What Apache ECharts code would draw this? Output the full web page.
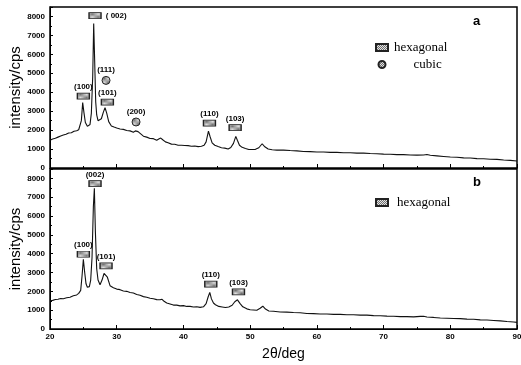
<!DOCTYPE html>
<html>
<head>
<meta charset="utf-8">
<script src="https://cdn.jsdelivr.net/npm/echarts@6/dist/echarts.min.js"></script>
<style>
  html, body { margin: 0; padding: 0; background: #fff; }
  #chart { width: 521px; height: 365px; }
</style>
</head>
<body>
<div id="chart"></div>
<script>
// XRD pattern, sample a: 2θ (deg) and intensity (cps)
const twoThetaA = [20,20.4,20.8,21.2,21.6,22,22.4,22.8,23.2,23.6,24,24.3,24.5,24.7,24.9,25.1,25.3,25.6,25.8,26,26.2,26.4,26.55,26.7,26.85,27,27.2,27.4,27.7,28,28.25,28.5,28.8,29.2,29.6,30,30.5,31,31.5,32,32.5,32.8,33,33.2,33.6,34,34.5,35,35.5,36,36.3,36.6,36.9,37.3,37.7,38.2,38.7,39.2,39.7,40.2,40.7,41.2,41.7,42.2,42.7,43.1,43.4,43.75,44,44.3,44.7,45.2,45.7,46.2,46.7,47.1,47.5,47.85,48.1,48.4,48.8,49.3,49.8,50.3,50.8,51.3,51.8,52.2,52.7,53.3,54,55,56,57,58,59,60,61,62,63,64,65,66,67,68,69,70,71,72,73,74,75,76,76.5,77,78,79,80,81,82,83,84,85,86,87,88,89,90];
const intensityA = [1460,1530,1570,1630,1690,1740,1780,1850,1860,1940,1970,2020,2070,2500,3450,2900,2400,2200,2180,2300,2900,4800,7630,5600,3500,2800,2500,2430,2600,2950,3180,2900,2450,2220,2160,2110,2060,2040,1980,1960,1890,1960,2050,1920,1800,1680,1630,1560,1550,1470,1530,1580,1490,1380,1330,1260,1250,1200,1200,1190,1180,1150,1160,1130,1150,1200,1380,1950,1650,1330,1200,1130,1070,1050,1000,1080,1300,1670,1450,1200,1090,1030,975,980,985,1070,1280,1120,1000,965,945,945,920,905,875,865,845,845,825,825,805,805,785,785,765,755,735,725,705,705,685,680,690,710,670,640,610,580,565,535,525,495,485,465,455,420,405,370];

// XRD pattern, sample b
const twoThetaB = [20,20.4,20.8,21.2,21.6,22,22.5,23,23.5,24,24.3,24.6,24.8,25,25.2,25.4,25.6,25.9,26.1,26.3,26.5,26.65,26.8,27,27.2,27.5,27.8,28.1,28.35,28.6,29,29.5,30,30.5,31,31.5,32,32.5,33,33.5,34,34.5,35,35.5,36,36.5,36.8,37.1,37.5,38,38.5,39,39.5,40,40.5,41,41.5,42,42.5,43,43.4,43.7,43.95,44.2,44.5,44.8,45.3,45.8,46.3,46.8,47.3,47.7,48.1,48.5,48.9,49.5,50,50.5,51,51.5,51.9,52.3,52.8,53.5,54.5,55.5,56.5,57.5,58.5,59.5,60.5,61.5,62.5,63.5,64.5,65.5,66.5,67.5,68.5,69.5,70.5,71.5,72.5,73.5,74.5,75.5,76,76.5,77.5,78.5,79.5,80.5,81.5,82.5,83.5,84.5,85.5,86.5,87.5,88.5,89.5,90];
const intensityB = [1500,1520,1570,1580,1620,1610,1660,1690,1770,1810,1890,2050,2800,3700,3000,2400,2220,2250,2600,3800,6500,7475,5200,3200,2600,2350,2600,2950,3015,2750,2300,2190,2120,2090,2020,2000,1940,1910,1830,1790,1720,1690,1630,1610,1560,1550,1580,1470,1380,1330,1270,1270,1230,1240,1200,1200,1170,1180,1150,1180,1350,1700,1940,1600,1380,1290,1200,1170,1140,1170,1260,1450,1550,1350,1180,1070,1020,1010,1000,1100,1210,1060,960,940,905,895,875,865,825,815,795,795,775,775,755,755,735,735,710,705,685,675,655,655,645,670,680,640,615,585,575,555,550,525,515,485,475,455,430,400,375,350];

// Reflection markers: [2θ, intensity, Miller indices]
const hexPeaksA = [[26.75, 8050, '( 002)'], [25.0, 3800, '(100)'], [28.6, 3480, '(101)'], [43.9, 2370, '(110)'], [47.75, 2130, '(103)']];
const cubicPeaksA = [[28.4, 4625, '(111)'], [32.9, 2430, '(200)']];
const hexPeaksB = [[26.75, 7720, '(002)'], [25.0, 3970, '(100)'], [28.4, 3350, '(101)'], [44.1, 2380, '(110)'], [48.25, 1970, '(103)']];

// Axis tick labels
const xTicks = [20, 30, 40, 50, 60, 70, 80, 90];
const yTicks = [0, 1000, 2000, 3000, 4000, 5000, 6000, 7000, 8000];

const SANS = '"Liberation Sans", Arial, sans-serif';
const SERIF = '"Liberation Serif", "Times New Roman", serif';

function hatchPattern() {
  const c = document.createElement('canvas');
  c.width = c.height = 2;
  const g = c.getContext('2d');
  g.fillStyle = '#e2e2e2';
  g.fillRect(0, 0, 2, 2);
  g.fillStyle = '#707070';
  g.fillRect(0, 0, 1, 1);
  g.fillRect(1, 1, 1, 1);
  return c;
}
const hatch = { image: hatchPattern(), repeat: 'repeat' };

function zip(xs, ys) { return xs.map((x, i) => [x, ys[i]]); }

function xAxisFor(gi, showLabels) {
  return {
    type: 'value', gridIndex: gi, min: xTicks[0], max: xTicks[xTicks.length - 1], interval: 10,
    axisLine: { lineStyle: { color: '#000', width: 1 } },
    axisTick: { inside: true, length: 4, lineStyle: { color: '#000' } },
    minorTick: { show: true, splitNumber: 2, length: 2, lineStyle: { color: '#000' } },
    splitLine: { show: false },
    axisLabel: { show: showLabels, color: '#000', fontSize: 8, fontWeight: 'bold', fontFamily: SANS, margin: 4 },
    name: showLabels ? '2θ/deg' : '', nameLocation: 'middle', nameGap: 18,
    nameTextStyle: { fontSize: 14, color: '#000', fontFamily: SANS }
  };
}

function yAxisFor(gi) {
  return {
    type: 'value', gridIndex: gi, min: 0, max: 8500, interval: 1000,
    axisLine: { show: true, lineStyle: { color: '#000', width: 1 } },
    axisTick: { show: true, inside: true, length: 3, lineStyle: { color: '#000' } },
    minorTick: { show: true, splitNumber: 2, length: 2, lineStyle: { color: '#000' } },
    splitLine: { show: false },
    axisLabel: {
      color: '#000', fontSize: 8, fontWeight: 'bold', fontFamily: SANS, margin: 5,
      formatter: v => (yTicks.indexOf(v) >= 0 ? String(v) : '')
    },
    name: 'intensity/cps', nameLocation: 'middle', nameGap: 27, nameMoveOverlap: false,
    nameTextStyle: { fontSize: 15, color: '#000', fontFamily: SANS }
  };
}

function curve(gi, xs, ys) {
  return {
    type: 'line', xAxisIndex: gi, yAxisIndex: gi, data: zip(xs, ys),
    showSymbol: false, silent: true, z: 2,
    lineStyle: { color: '#111', width: 1.1 }
  };
}

const peakLabel = { show: true, position: 'top', distance: 2, color: '#000', fontSize: 8, fontWeight: 'bold', fontFamily: SANS };

function markers(gi, name, peaks, symbol, size, sideLabel) {
  return {
    type: 'scatter', name: name, xAxisIndex: gi, yAxisIndex: gi, z: 5, silent: true,
    symbol: symbol, symbolSize: size,
    itemStyle: { color: hatch, borderColor: '#222', borderWidth: 1, opacity: 1 },
    label: Object.assign({}, peakLabel, { formatter: p => p.data.value[2] }),
    data: peaks.map(p => {
      const item = { value: p };
      if (sideLabel && p[2] === sideLabel) item.label = { position: 'right', distance: 4 };
      return item;
    })
  };
}

const gridBase = { left: 50, width: 467, show: true, borderColor: '#000', borderWidth: 1.5, backgroundColor: 'transparent', outerBoundsMode: 'none', containLabel: false };

const chart = echarts.init(document.getElementById('chart'), null, { renderer: 'canvas' });
chart.setOption({
  animation: false,
  backgroundColor: '#fff',
  grid: [
    Object.assign({}, gridBase, { top: 7, height: 161 }),
    Object.assign({}, gridBase, { top: 169, height: 160 })
  ],
  xAxis: [xAxisFor(0, false), xAxisFor(1, true)],
  yAxis: [yAxisFor(0), yAxisFor(1)],
  legend: [
    {
      left: 370, top: 36, orient: 'vertical', itemGap: 4, itemWidth: 12, itemHeight: 7,
      data: ['hexagonal', 'cubic'],
      formatter: n => (n === 'cubic' ? '      cubic' : n),
      textStyle: { fontFamily: SERIF, fontSize: 13, color: '#000', padding: [0, 0, 0, 1] },
      selectedMode: false
    },
    {
      left: 370, top: 191, orient: 'vertical', itemWidth: 12, itemHeight: 7,
      data: ['hexagonal'],
      textStyle: { fontFamily: SERIF, fontSize: 13, color: '#000', padding: [0, 0, 0, 4] },
      selectedMode: false
    }
  ],
  graphic: [
    { type: 'text', left: 473, top: 15, style: { text: 'a', font: 'bold 13px ' + SANS, fill: '#000' } },
    { type: 'text', left: 473, top: 176, style: { text: 'b', font: 'bold 13px ' + SANS, fill: '#000' } }
  ],
  series: [
    curve(0, twoThetaA, intensityA),
    curve(1, twoThetaB, intensityB),
    markers(0, 'hexagonal', hexPeaksA, 'rect', [12, 6], '( 002)'),
    markers(0, 'cubic', cubicPeaksA, 'circle', 8, null),
    markers(1, 'hexagonal', hexPeaksB, 'rect', [12, 6], null)
  ]
});
</script>
</body>
</html>
